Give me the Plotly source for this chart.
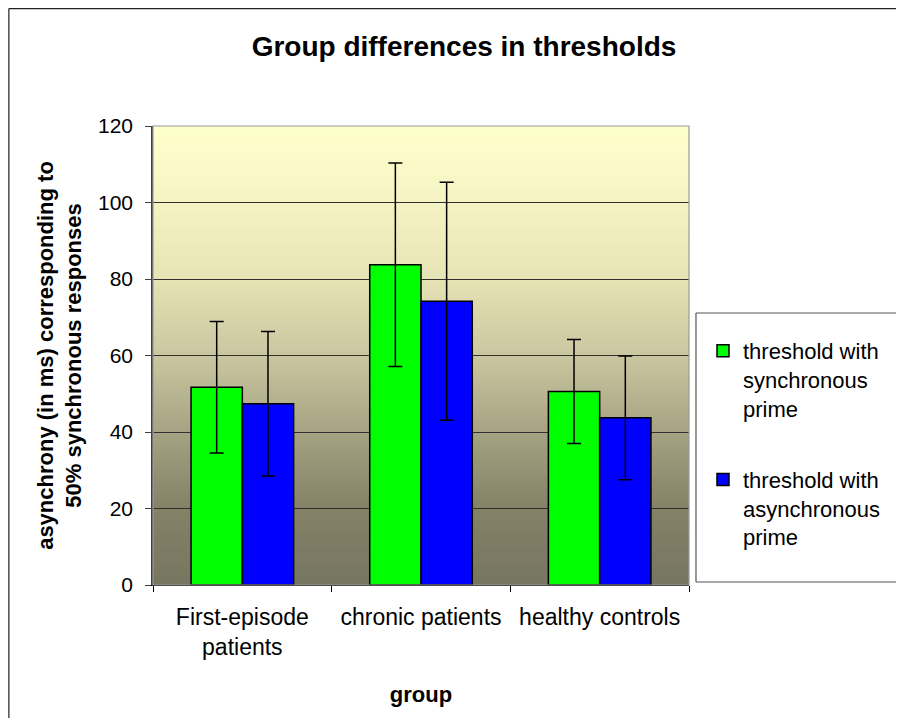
import plotly.graph_objects as go

categories = ["First-episode patients", "chronic patients", "healthy controls"]
tick_labels = ["First-episode<br>patients", "chronic patients", "healthy controls"]
series_names = ["threshold with<br>synchronous<br>prime", "threshold with<br>asynchronous<br>prime"]
sync_values = [51.7, 83.7, 50.6]
sync_errors = [17.2, 26.6, 13.6]
async_values = [47.4, 74.2, 43.7]
async_errors = [18.9, 31.1, 16.2]
y_ticks = [0, 20, 40, 60, 80, 100, 120]

# background gradient stops (value, colour)
grad_stops = [(0, (0x77, 0x76, 0x60)), (20, (0x84, 0x81, 0x67)), (40, (0xA6, 0xA2, 0x83)),
              (60, (0xCA, 0xC7, 0xA0)), (80, (0xE6, 0xE3, 0xB5)), (100, (0xF5, 0xF3, 0xC3)),
              (120, (0xFF, 0xFF, 0xCC))]

OFF = 8  # page body margin
W, H = 904 - 2 * OFF, 726 - 2 * OFF
L = 153 - OFF
R = W - (690 - OFF)
T = 126 - OFF
B = H - (585 - OFF)
FONT = "Liberation Sans, Arial, sans-serif"

fig = go.Figure()
fig.add_trace(go.Bar(
    x=categories, y=sync_values, name=series_names[0], legendgroup="a",
    marker=dict(color="#00FF00", line=dict(color="black", width=1.5)),
    error_y=dict(type="data", array=sync_errors, color="black", thickness=1.5, width=7),
))
fig.add_trace(go.Bar(
    x=categories, y=async_values, name=series_names[1], legendgroup="b",
    marker=dict(color="#0000FF", line=dict(color="black", width=1.5)),
    error_y=dict(type="data", array=async_errors, color="black", thickness=1.5, width=7),
))

def interp(v):
    for (v0, c0), (v1, c1) in zip(grad_stops[:-1], grad_stops[1:]):
        if v0 <= v <= v1:
            t = (v - v0) / (v1 - v0)
            return "rgb(%d,%d,%d)" % tuple(round(a + (b - a) * t) for a, b in zip(c0, c1))
    return "rgb(255,255,204)"

shapes = []
n = 120
for i in range(n):
    y0 = 120 * i / n
    y1 = 120 * (i + 1) / n
    shapes.append(dict(type="rect", xref="paper", yref="y", x0=0, x1=1, y0=y0, y1=y1 + 0.3,
                       fillcolor=interp((y0 + y1) / 2), line=dict(width=0), layer="below"))

pw, ph = W - L - R, H - T - B
def px2x(p):  # page px -> paper x
    return (p - OFF - L) / pw
def px2y(p):  # page px -> paper y
    return (H - B - (p - OFF)) / ph

def seg(x0, y0, x1, y1, color, width):
    return dict(type="line", xref="paper", yref="paper", x0=px2x(x0), y0=px2y(y0),
                x1=px2x(x1), y1=px2y(y1), line=dict(color=color, width=width))

# plot-area border (top/right in grey)
shapes.append(dict(type="rect", xref="paper", yref="paper", x0=0, x1=1, y0=0, y1=1,
                   line=dict(color="#9A9A9A", width=1.2), layer="above"))
# outer chart frame (left and top edges visible)
shapes.append(seg(8.6, 8.6, 8.6, 760, "#222222", 1.2))
shapes.append(seg(8.6, 8.6, 940, 8.6, "#222222", 1.2))
# legend box
shapes.append(dict(type="rect", xref="paper", yref="paper", x0=px2x(697), x1=px2x(940),
                   y0=px2y(582), y1=px2y(313), line=dict(width=0),
                   fillcolor="white", layer="below"))
shapes.append(seg(697, 313, 940, 313, "#555555", 1.2))
shapes.append(seg(697, 582, 940, 582, "#555555", 1.2))
shapes.append(seg(697, 313, 697, 582, "#555555", 1.2))

fig.update_layout(
    width=W, height=H,
    margin=dict(l=L, r=R, t=T, b=B),
    paper_bgcolor="white", plot_bgcolor="rgba(0,0,0,0)",
    font=dict(family=FONT, color="black", size=21),
    barmode="group", bargap=0.426, bargroupgap=0,
    title=dict(text="<b>Group differences in thresholds</b>", x=(464 - OFF) / W, xref="container",
               xanchor="center", y=1 - (46 - OFF) / H, yanchor="middle", yref="container",
               font=dict(size=28, family=FONT)),
    shapes=shapes,
    showlegend=True,
    legend=dict(x=px2x(703), xanchor="left", y=px2y(330), yanchor="top",
                bgcolor="rgba(0,0,0,0)", borderwidth=0, font=dict(size=22, family=FONT),
                valign="top", tracegroupgap=40, traceorder="grouped", itemwidth=30),
    xaxis=dict(tickvals=categories, ticktext=tick_labels, showline=True, linecolor="black",
               linewidth=1.2, ticks="outside", tickson="boundaries", ticklen=6,
               tickcolor="black", tickfont=dict(size=23), ticklabelstandoff=11,
               showgrid=False, title=dict(text="<b>group</b>", font=dict(size=22), standoff=28)),
    yaxis=dict(range=[0, 120], tickvals=y_ticks, showline=True, linecolor="#404040",
               linewidth=1.5, ticks="outside", ticklen=6, tickcolor="#404040",
               tickfont=dict(size=21), ticklabelstandoff=8,
               showgrid=True, gridcolor="#303030", gridwidth=1, zeroline=False,
               title=dict(text="<b>asynchrony (in ms) corresponding to<br>50% synchronous responses</b>",
                          font=dict(size=22), standoff=10)),
)

fig.write_html("out.html")
